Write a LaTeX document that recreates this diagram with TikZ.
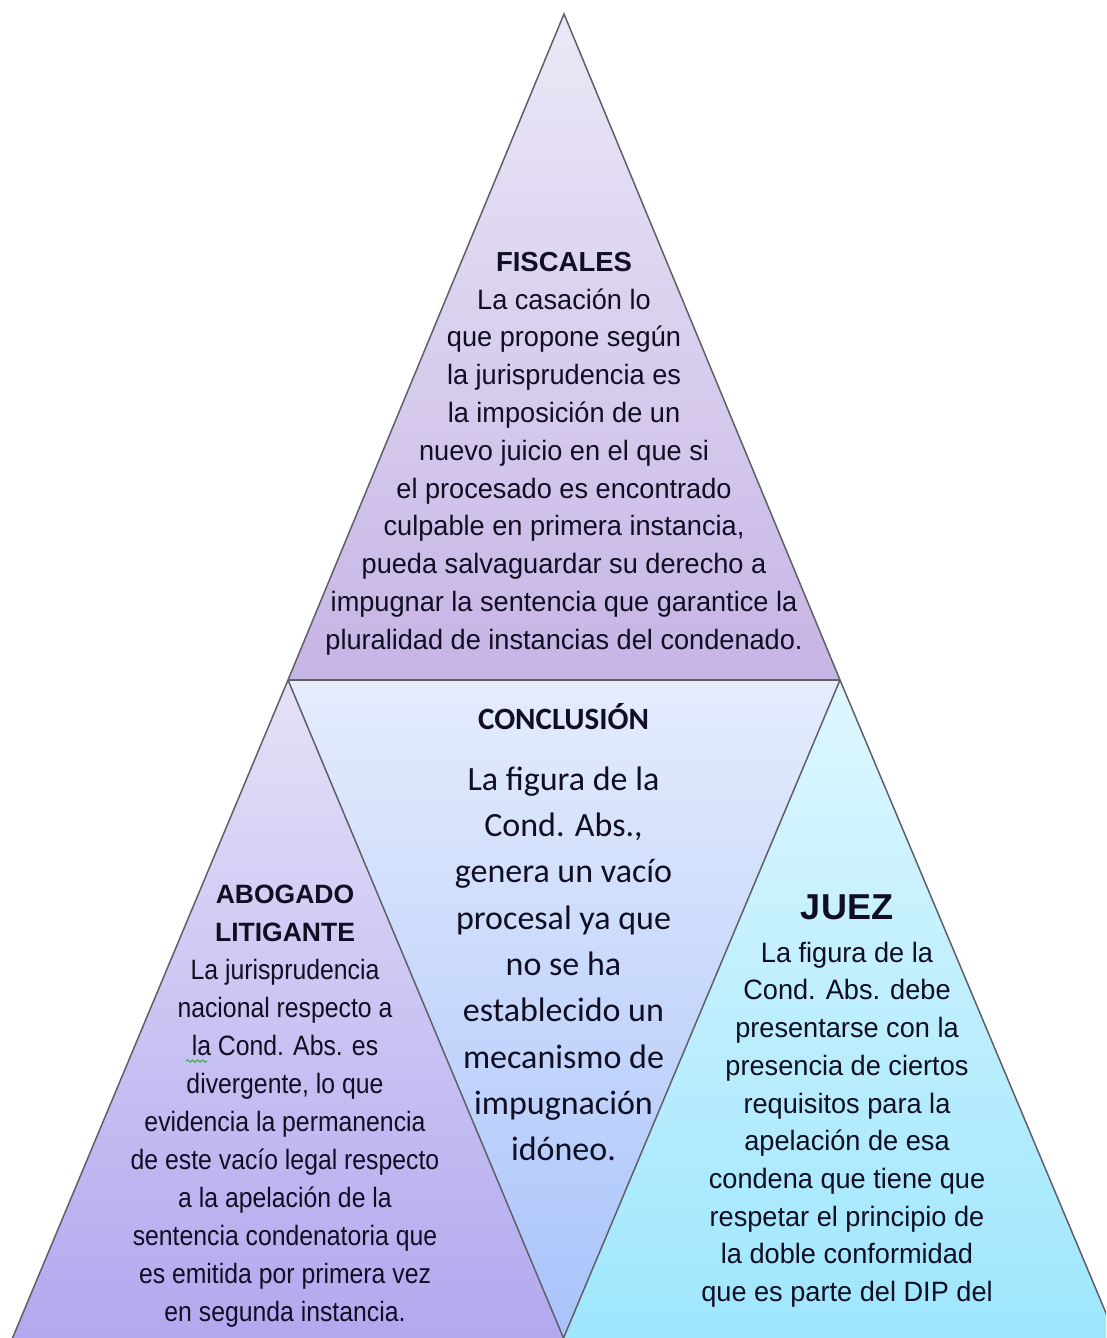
\documentclass[tikz,border=0pt]{standalone}
\usepackage{fontspec}
\newfontfamily\arialf[FakeStretch=0.97]{Liberation Sans}
\newfontfamily\ariala[FakeStretch=0.885]{Liberation Sans}
\newfontfamily\arialh{Liberation Sans}
\newfontfamily\carl{Carlito}
\usetikzlibrary{decorations.pathmorphing}
\definecolor{txt}{RGB}{16,14,34}
\definecolor{edgec}{RGB}{95,95,104}
\definecolor{topA}{RGB}{236,232,247}
\definecolor{topB}{RGB}{198,180,229}
\definecolor{leftA}{RGB}{228,225,247}
\definecolor{leftB}{RGB}{178,168,239}
\definecolor{midA}{RGB}{229,236,252}
\definecolor{midB}{RGB}{168,195,251}
\definecolor{rightA}{RGB}{222,247,254}
\definecolor{rightB}{RGB}{158,230,253}
\definecolor{squig}{RGB}{60,170,60}
\begin{document}
\begin{tikzpicture}[x=1pt,y=-1pt,
  edge/.style={draw=edgec, line width=1.5pt},
  txtbox/.style={inner sep=0pt, align=center, text=txt, anchor=north}]
\useasboundingbox (0,0) rectangle (1106,1338);
\coordinate (apex) at (564,14);
\coordinate (tl) at (288,680);
\coordinate (tr) at (840,680);
\coordinate (bl) at (12.5,1338);
\coordinate (bm) at (563.5,1338);
\coordinate (br) at (1116.5,1338);
\begin{scope}
\clip (0,0) rectangle (1106,1338);
\shade[top color=topA, bottom color=topB] (apex) -- (tl) -- (tr) -- cycle;
\shade[top color=leftA, bottom color=leftB] (tl) -- (bl) -- (bm) -- cycle;
\shade[top color=midA, bottom color=midB] (tl) -- (tr) -- (bm) -- cycle;
\shade[top color=rightA, bottom color=rightB] (tr) -- (bm) -- (br) -- cycle;
\draw[edge] (tl) -- (apex) -- (tr);
\draw[edge] (tl) -- (tr);
\draw[edge] (tl) -- (bl);
\draw[edge] (tl) -- (bm) -- (tr);
\draw[edge] (tr) -- (br);
\end{scope}

\node[txtbox, font=\arialf\fontsize{28}{37.8}\selectfont] (fiscales) at (564,241)
 {\rule{0pt}{30pt}{\arialh\bfseries\fontsize{27.5}{30}\selectfont FISCALES}\\
  La casación lo\\
  que propone según\\
  la jurisprudencia es\\
  la imposición de un\\
  nuevo juicio en el que si\\
  el procesado es encontrado\\
  culpable en primera instancia,\\
  pueda salvaguardar su derecho a\\
  impugnar la sentencia que garantice la\\
  pluralidad de instancias del condenado.};

\node[txtbox, font=\carl\bfseries\fontsize{31}{36}\selectfont] (conchead) at (563.5,699)
 {\rule{0pt}{30pt}CONCLUSIÓN};
\node[txtbox, font=\carl\fontsize{34}{46.3}\selectfont] (concbody) at (563.5,760)
 {\rule{0pt}{30pt}La figura de la\\
  Cond. Abs.,\\
  genera un vacío\\
  procesal ya que\\
  no se ha\\
  establecido un\\
  mecanismo de\\
  impugnación\\
  idóneo.};

\node[txtbox, font=\ariala\fontsize{28}{38}\selectfont] (abogado) at (285,873)
 {\rule{0pt}{30pt}{\arialh\bfseries\fontsize{26.5}{30}\selectfont ABOGADO}\\
  {\arialh\bfseries\fontsize{26.5}{30}\selectfont LITIGANTE}\\
  La jurisprudencia\\
  nacional respecto a\\
  la Cond. Abs. es\\
  divergente, lo que\\
  evidencia la permanencia\\
  de este vacío legal respecto\\
  a la apelación de la\\
  sentencia condenatoria que\\
  es emitida por primera vez\\
  en segunda instancia.};
\coordinate (sqa) at (186,1061);
\coordinate (sqb) at (207,1061);
\draw[squig, line width=1pt, decorate, decoration={snake, amplitude=1.2pt, segment length=5pt}] (sqa) -- (sqb);

\node[txtbox, font=\arialf\fontsize{28}{37.7}\selectfont] (juez) at (847,889)
 {\rule{0pt}{30pt}{\arialh\bfseries\fontsize{36}{40}\selectfont JUEZ}\\[5.3pt]
  La figura de la\\
  Cond. Abs. debe\\
  presentarse con la\\
  presencia de ciertos\\
  requisitos para la\\
  apelación de esa\\
  condena que tiene que\\
  respetar el principio de\\
  la doble conformidad\\
  que es parte del DIP del};
\end{tikzpicture}
\end{document}
